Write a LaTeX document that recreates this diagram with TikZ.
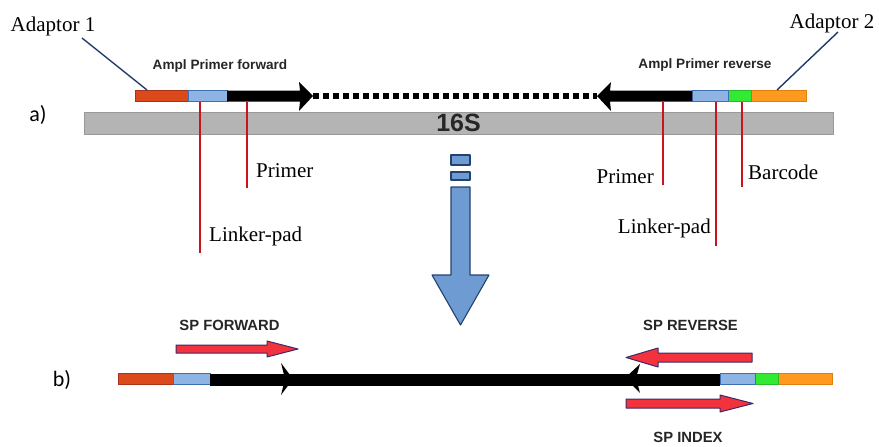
\documentclass[tikz,border=0pt]{standalone}
\usepackage{fontspec}
\setmainfont{Liberation Serif}
\setsansfont{Liberation Sans}
\newfontfamily\calibrifont{Carlito}
\definecolor{adred}{HTML}{DC4A1C}
\definecolor{adredb}{HTML}{A8321A}
\definecolor{lpblue}{HTML}{8DB4E2}
\definecolor{lpblueb}{HTML}{3E6FB0}
\definecolor{bcgreen}{HTML}{33EA33}
\definecolor{adorange}{HTML}{FF9A1F}
\definecolor{adorangeb}{HTML}{E07E10}
\definecolor{navy}{HTML}{1F3A68}
\definecolor{lnred}{HTML}{C8141E}
\definecolor{arrred}{HTML}{F2323C}
\definecolor{arrbord}{HTML}{3C2A6A}
\definecolor{bigblue}{HTML}{6F9BD3}
\definecolor{bigblueb}{HTML}{24426E}
\definecolor{barfill}{HTML}{B4B4B4}
\definecolor{barbord}{HTML}{999999}
\begin{document}
\begin{tikzpicture}[x=1pt,y=-1pt,
  seg/.style={draw, line width=0.9pt, minimum height=11, inner sep=0, outer sep=0, anchor=west},
  adaptone/.style={seg, fill=adred, draw=adredb},
  linker/.style={seg, fill=lpblue, draw=lpblueb},
  barcodebox/.style={seg, fill=bcgreen, draw=bcgreen!80!black},
  adapttwo/.style={seg, fill=adorange, draw=adorangeb},
  serlbl/.style={font=\fontsize{21}{21}\selectfont, inner sep=0},
  smalllbl/.style={font=\sffamily\bfseries\fontsize{13.6}{13.6}\selectfont, inner sep=0, text=black!85},
  caplbl/.style={font=\sffamily\bfseries\fontsize{14.8}{14.8}\selectfont, inner sep=0, text=black!85},
  partlbl/.style={font=\calibrifont\fontsize{22}{22}\selectfont, inner sep=0},
  redline/.style={draw=lnred, line width=1.7pt},
  leader/.style={draw=navy, line width=1.4pt},
  redarrow/.style={fill=arrred, draw=arrbord, line width=1pt, line join=round},
  bigarrow/.style={fill=bigblue, draw=bigblueb, line width=1.1pt, line join=round}]
\useasboundingbox (0,0) rectangle (879,447);

% ---------- a) ----------
\node[partlbl] (la) at (38,115) {a)};
\node[draw=barbord, fill=barfill, line width=0.9pt, minimum width=749, minimum height=22, inner sep=0,
  font=\sffamily\bfseries\fontsize{25}{25}\selectfont, text=black!85] (gene) at (458.5,123) {16S};

% top strand, left
\node[adaptone, minimum width=53] (ad1) at (135,96) {};
\node[linker, minimum width=39] (lp1) at (ad1.east) {};
\fill (lp1.east |- 0,90.5) -- (300,90.5) -- (299,82) -- (313,96) -- (299,111) -- (300,101.5) -- (lp1.east |- 0,101.5) -- cycle;
\coordinate (dashL) at (313,96);
\coordinate (dashR) at (597,96);
\draw[line width=6pt, dash pattern=on 6pt off 4pt] (dashL) -- (dashR);

% top strand, right
\node[adapttwo, minimum width=55] (ad2) at (751,96) {};
\node[barcodebox, minimum width=23, anchor=east] (bc) at (ad2.west) {};
\node[linker, minimum width=36, anchor=east] (lp2) at (bc.west) {};
\fill (lp2.west |- 0,90.5) -- (610,90.5) -- (611,82) -- (597,96) -- (611,111) -- (610,101.5) -- (lp2.west |- 0,101.5) -- cycle;

% labels of a)
\node[serlbl] (adl1) at (53,26) {Adaptor 1};
\node[serlbl] (adl2) at (832,23) {Adaptor 2};
\draw[leader] (82,38) -- (147,90);
\draw[leader] (838,32) -- (777,90);
\node[smalllbl] (apf) at (220,66) {Ampl Primer forward};
\node[smalllbl] (apr) at (705,65) {Ampl Primer reverse};

\coordinate (l1t) at (200,102); \coordinate (l1b) at (200,253);
\coordinate (p1t) at (247,102); \coordinate (p1b) at (247,188);
\coordinate (p2t) at (663,102); \coordinate (p2b) at (663,185);
\coordinate (l2t) at (716,102); \coordinate (l2b) at (716,246);
\coordinate (b2t) at (742,102); \coordinate (b2b) at (742,187);
\draw[redline] (l1t) -- (l1b);
\draw[redline] (p1t) -- (p1b);
\draw[redline] (p2t) -- (p2b);
\draw[redline] (l2t) -- (l2b);
\draw[redline] (b2t) -- (b2b);
\node[serlbl, anchor=west] (linkL) at (209,236) {Linker-pad};
\node[serlbl, anchor=west] (primL) at (256,171) {Primer};
\node[serlbl, anchor=east] (primR) at (654,177) {Primer};
\node[serlbl, anchor=east] (linkR) at (711,228) {Linker-pad};
\node[serlbl, anchor=west] (barc) at (748,172) {Barcode};

% big blue arrow
\node[bigarrow, draw, minimum width=19, minimum height=10, inner sep=0] (sq1) at (460.5,160) {};
\node[bigarrow, draw, minimum width=19, minimum height=8, inner sep=0] (sq2) at (460.5,176) {};
\draw[bigarrow] (451,187) -- (470,187) -- (470,275) -- (489,275) -- (460.5,325) -- (432,275) -- (451,275) -- cycle;

% ---------- b) ----------
\node[partlbl] (lb) at (62,380) {b)};
\node[adaptone, minimum width=55] (ad1b) at (118,379) {};
\node[linker, minimum width=37] (lp1b) at (ad1b.east) {};
\node[adapttwo, minimum width=54] (ad2b) at (778,379) {};
\node[barcodebox, minimum width=23, anchor=east] (bcb) at (ad2b.west) {};
\node[linker, minimum width=35, anchor=east] (lp2b) at (bcb.west) {};
\fill (lp1b.east |- 0,374) rectangle (lp2b.west |- 0,386);
\fill (281,363) -- (293,379) -- (281,395) -- (285,379) -- cycle;
\fill (640,364) -- (625,378) -- (640,393) -- (636,378) -- cycle;

\draw[redarrow] (176,345) -- (267,345) -- (267,341) -- (298,349) -- (267,357) -- (267,353) -- (176,353) -- cycle;
\draw[redarrow] (752,353) -- (658,353) -- (658,348) -- (626,357.5) -- (658,367) -- (658,362) -- (752,362) -- cycle;
\draw[redarrow] (626,399) -- (720,399) -- (720,395) -- (753,403.5) -- (720,412) -- (720,408) -- (626,408) -- cycle;
\node[caplbl] (spf) at (229.5,325) {SP FORWARD};
\node[caplbl] (spr) at (690.5,325) {SP REVERSE};
\node[caplbl] (spi) at (688,437) {SP INDEX};
\end{tikzpicture}
\end{document}
